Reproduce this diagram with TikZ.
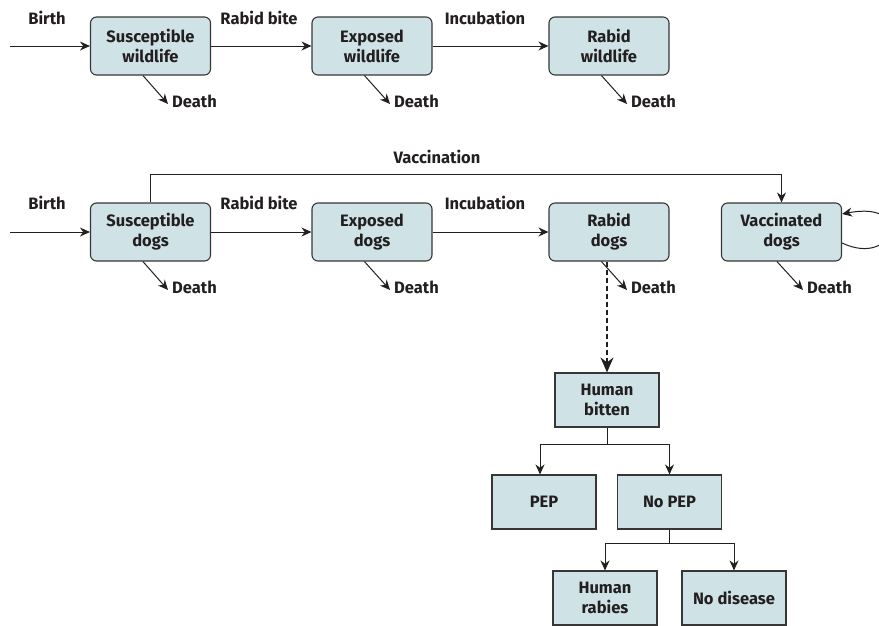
\documentclass[tikz,border=0pt]{standalone}
\usepackage{fontspec}
\setmainfont{Fira Sans}
\usetikzlibrary{arrows.meta,calc}
\definecolor{boxfill}{RGB}{207,226,230}
\definecolor{ink}{RGB}{35,31,32}
\definecolor{edge}{RGB}{55,55,55}
\tikzset{
  rbox/.style={draw=edge, fill=boxfill, line width=1.1pt, rounded corners=6pt,
    minimum width=120pt, minimum height=58pt, align=center, inner sep=0pt, text=ink},
  sbox/.style={draw=edge, fill=boxfill, line width=1.1pt,
    minimum width=104pt, minimum height=54pt, align=center, inner sep=0pt, text=ink},
  lbl/.style={text=ink, inner sep=0pt},
  arr/.style={draw=ink, line width=1pt, -{Stealth[length=10pt,width=9pt]}},
  darr/.style={draw=ink, line width=1.1pt, dash pattern=on 5pt off 3pt, -{Stealth[length=15pt,width=13pt]}},
}
\begin{document}
\begin{tikzpicture}[x=1pt,y=-1pt,font=\bfseries\fontsize{16.5}{20}\selectfont]
\useasboundingbox (0,0) rectangle (879,625);
% ---- wildlife row
\node[rbox] (sw) at (150.5,46) {Susceptible\\wildlife};
\node[rbox] (ew) at (372,46) {Exposed\\wildlife};
\node[rbox] (rw) at (609,46) {Rabid\\wildlife};
\coordinate (bw) at (10,46);
\node[lbl] at (47,18) {Birth};
\node[lbl] at (259,18) {Rabid bite};
\node[lbl] at (485,18) {Incubation};
\draw[arr] (bw) -- (sw);
\draw[arr] (sw) -- (ew);
\draw[arr] (ew) -- (rw);
\node[lbl,anchor=west] (dsw) at (172,101) {Death};
\node[lbl,anchor=west] (dew) at (394,101) {Death};
\node[lbl,anchor=west] (drw) at (631,101) {Death};
\draw[arr] ($(sw.south west)+(53,0)$) -- ($(dsw.west)+(-4,3)$);
\draw[arr] ($(ew.south west)+(53,0)$) -- ($(dew.west)+(-4,3)$);
\draw[arr] ($(rw.south west)+(53,0)$) -- ($(drw.west)+(-4,3)$);
% ---- dogs row
\node[rbox] (sd) at (150.5,232) {Susceptible\\dogs};
\node[rbox] (ed) at (372,232) {Exposed\\dogs};
\node[rbox] (rd) at (609,232) {Rabid\\dogs};
\node[rbox] (vd) at (781.5,232) {Vaccinated\\dogs};
\coordinate (bd) at (10,232);
\node[lbl] at (47,203) {Birth};
\node[lbl] at (259,203) {Rabid bite};
\node[lbl] at (485,203) {Incubation};
\node[lbl] at (437,157) {Vaccination};
\draw[arr] (bd) -- (sd);
\draw[arr] (sd) -- (ed);
\draw[arr] (ed) -- (rd);
\draw[arr] (sd.north) -- ++(0,-28) -| (vd.north);
\node[lbl,anchor=west] (dsd) at (172,287) {Death};
\node[lbl,anchor=west] (ded) at (394,287) {Death};
\node[lbl,anchor=west] (drd) at (631,287) {Death};
\node[lbl,anchor=west] (dvd) at (807,287) {Death};
\draw[arr] ($(sd.south west)+(53,0)$) -- ($(dsd.west)+(-4,3)$);
\draw[arr] ($(ed.south west)+(53,0)$) -- ($(ded.west)+(-4,3)$);
\draw[arr] ($(rd.south west)+(53,0)$) -- ($(drd.west)+(-4,3)$);
\draw[arr] ($(vd.south west)+(56,0)$) -- ($(dvd.west)+(-4,3)$);
\draw[arr] ($(vd.east)+(0,11)$) .. controls (895,268) and (915,200) .. ($(vd.east)+(0,-18)$);
% ---- human branch
\node[sbox] (hb) at (607,400) {Human\\bitten};
\node[sbox] (pep) at (544,502) {PEP};
\node[sbox] (npep) at (669.5,502) {No PEP};
\node[sbox] (hr) at (605,598) {Human\\rabies};
\node[sbox] (nd) at (734,598) {No disease};
\draw[darr] (rd.south -| hb.north) -- (hb.north);
\draw[arr] (hb.south) -- ++(0,17) -| ($(pep.north)+(-4,0)$);
\draw[arr] (hb.south) -- ++(0,17) -| (npep.north);
\draw[arr] (npep.south) -- ++(0,14) -| (hr.north);
\draw[arr] (npep.south) -- ++(0,14) -| (nd.north);
\end{tikzpicture}
\end{document}
